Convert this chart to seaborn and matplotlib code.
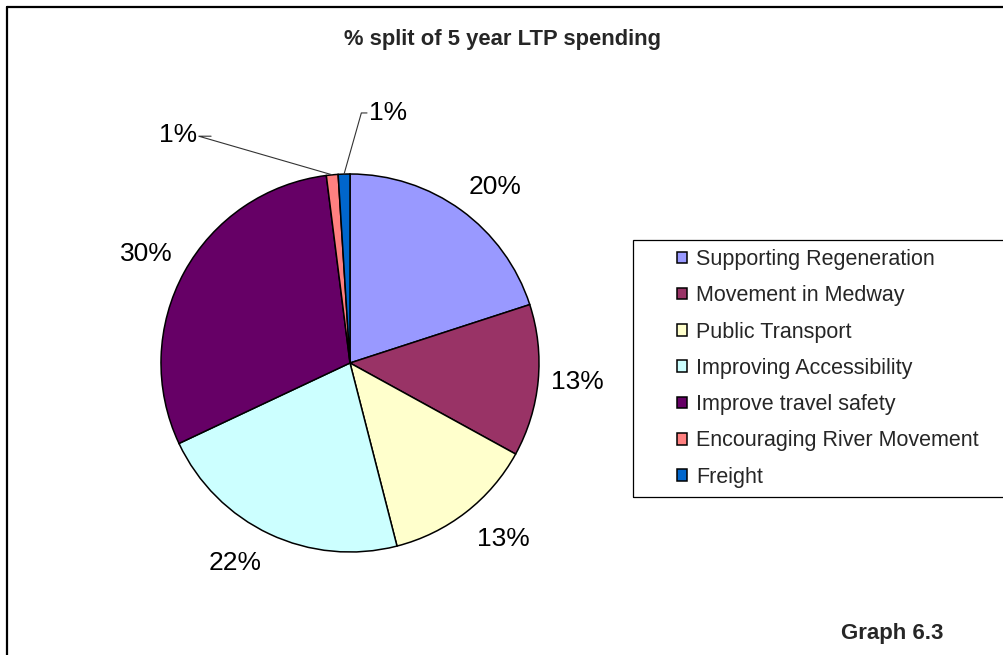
import numpy as np
import matplotlib
matplotlib.use("Agg")
import matplotlib.pyplot as plt
from matplotlib.lines import Line2D
from matplotlib.patches import Rectangle
import seaborn as sns

categories = [
    "Supporting Regeneration",
    "Movement in Medway",
    "Public Transport",
    "Improving Accessibility",
    "Improve travel safety",
    "Encouraging River Movement",
    "Freight",
]
shares = [20, 13, 13, 22, 30, 1, 1]
colours = ["#9999FF", "#993366", "#FFFFCC", "#CCFFFF", "#660066", "#FF8080", "#0066CC"]

sns.set_theme(style="white")
plt.rcParams["font.family"] = ["Liberation Sans", "DejaVu Sans"]

W, H, DPI = 1004, 655, 100
fig = plt.figure(figsize=(W / DPI, H / DPI), dpi=DPI)
fig.patch.set_facecolor("white")

# pie axes, placed in pixel terms: centre (350, 363), radius 189
cx, cy, r = 350, 363, 189
ax = fig.add_axes([(cx - r) / W, (H - cy - r) / H, 2 * r / W, 2 * r / H])

palette = sns.color_palette(colours)
wedges, _ = ax.pie(
    shares, colors=palette, startangle=90, counterclock=False, radius=1,
    wedgeprops=dict(edgecolor="black", linewidth=1.1),
)
ax.set_xlim(-1, 1)
ax.set_ylim(-1, 1)
ax.set_aspect("equal")
ax.axis("off")

LABEL_SIZE = 19

# percentage labels placed just outside each wedge
for i, (w, v) in enumerate(zip(wedges, shares)):
    if i >= 5:
        continue
    mid = np.deg2rad((w.theta1 + w.theta2) / 2)
    x, y = np.cos(mid), np.sin(mid)
    d = 1.07 if y > -0.5 else 1.1
    ha = "left" if x > 0.15 else ("right" if x < -0.15 else "center")
    va = "bottom" if y > 0.15 else ("top" if y < -0.15 else "center")
    ax.text(d * x, d * y, f"{v}%", ha=ha, va=va, fontsize=LABEL_SIZE, color="black",
            clip_on=False)

# leader lines for the two thin wedges
def edge_point(w):
    mid = np.deg2rad((w.theta1 + w.theta2) / 2)
    return np.cos(mid), np.sin(mid)

ex, ey = edge_point(wedges[5])
ax.plot([-0.735, -0.80, ex], [1.20, 1.20, ey], color="#333333", lw=0.8, clip_on=False)
ax.text(-0.81, 1.205, "1%", ha="right", va="center", fontsize=LABEL_SIZE, color="black")

fx, fy = edge_point(wedges[6])
ax.plot([0.09, 0.06, fx], [1.323, 1.323, fy], color="#333333", lw=0.8, clip_on=False)
ax.text(0.10, 1.323, "1%", ha="left", va="center", fontsize=LABEL_SIZE, color="black")

# title and caption
fig.text(503 / W, 1 - 40 / H, "% split of 5 year LTP spending", ha="center", va="center",
         fontsize=15.8, fontweight="bold")
fig.text(892 / W, 1 - 633 / H, "Graph 6.3", ha="center", va="center",
         fontsize=16, fontweight="bold")

# outer frame (left and top edges)
fig.add_artist(Line2D([7.5 / W, 7.5 / W], [0, 1 - 6.5 / H], color="black", lw=1.6,
                      transform=fig.transFigure))
fig.add_artist(Line2D([7.5 / W, 1], [1 - 6.5 / H, 1 - 6.5 / H], color="black", lw=1.6,
                      transform=fig.transFigure))

# legend box
fig.add_artist(Rectangle((633 / W, 1 - 497 / H), (W + 5 - 633) / W, (497 - 240) / H,
                         transform=fig.transFigure, facecolor="none",
                         edgecolor="black", lw=0.9, clip_on=False))
leg = fig.legend(
    wedges, categories, loc="upper left",
    bbox_to_anchor=(677 / W, 1 - 249 / H), bbox_transform=fig.transFigure,
    frameon=False, fontsize=15.5, handlelength=0.45, handleheight=0.45,
    handletextpad=0.45, labelspacing=0.71, borderpad=0, borderaxespad=0,
)

fig.savefig("out.png", dpi=DPI, facecolor="white")
